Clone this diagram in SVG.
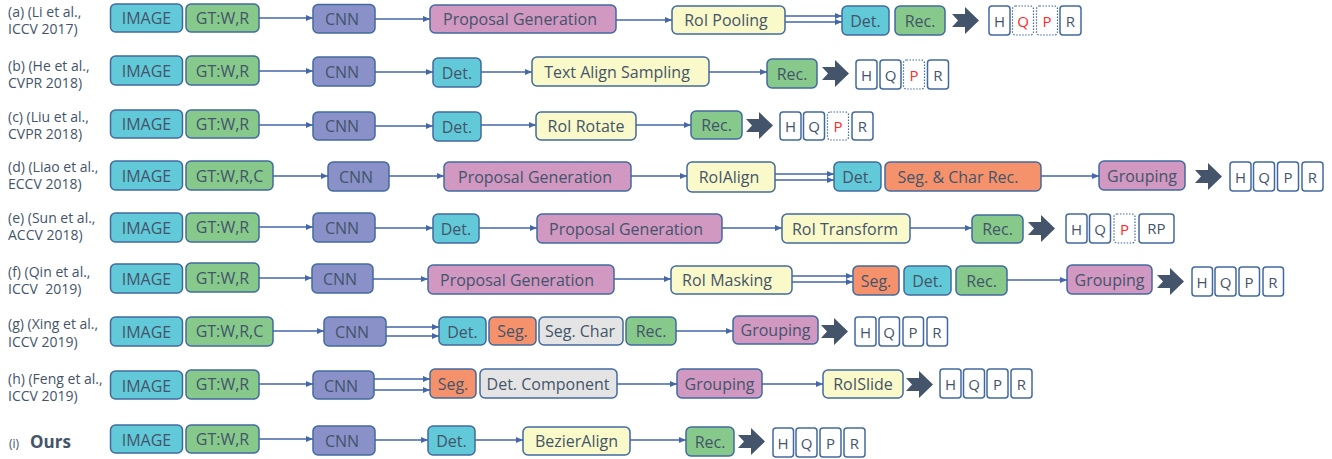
<svg xmlns="http://www.w3.org/2000/svg" xmlns:xlink="http://www.w3.org/1999/xlink" width="1332" height="459" viewBox="0 0 1332 459">
<style>
.bx{stroke:#41699F;stroke-width:1.5;rx:5px;ry:5px}
.img{fill:#62C9D8}.gt{fill:#86C98B}.cnn{fill:#8991C8}.pg{fill:#D198C2}.yl{fill:#FAF9C9}.or{fill:#F5926C}.gr{fill:#E4E4E4}
.t{font-family:"Open Sans","Noto Sans",sans-serif;font-size:16px;fill:#44546A;text-anchor:middle;dominant-baseline:central}
.lb{font-family:"Open Sans","Noto Sans",sans-serif;font-size:14px;fill:#44546A}
.sb{fill:#fff;stroke:#41699F;stroke-width:1.5;rx:3px;ry:3px}
.dt{stroke-width:1.2;stroke-dasharray:1.5 1.5}
.st{font-family:"Open Sans","Noto Sans",sans-serif;font-size:15px;fill:#44546A;text-anchor:middle;dominant-baseline:central}
.red{fill:#FF2A2A}
.ln{stroke:#4466AA;stroke-width:1.3;fill:none;marker-end:url(#ah)}
.big{fill:#44546A}
</style>
<defs>
<marker id="ah" markerUnits="userSpaceOnUse" markerWidth="7" markerHeight="6" refX="7" refY="3" orient="auto"><path d="M0,0 L7,3 L0,6 z" fill="#4466AA"/></marker>
<path id="ba" d="M0,7 L13,7 L13,0 L27,13.5 L13,27 L13,20 L0,20 L6,13.5 z"/>
</defs>

<g id="labels">
<text class="lb" x="8" y="16.5">(a) (Li et al.,</text><text class="lb" x="8" y="33.5">ICCV 2017)</text>
<text class="lb" x="8" y="70.5">(b) (He et al.,</text><text class="lb" x="8" y="87.5">CVPR 2018)</text>
<text class="lb" x="8" y="121.5">(c) (Liu et al.,</text><text class="lb" x="8" y="138.5">CVPR 2018)</text>
<text class="lb" x="8" y="171.5">(d) (Liao et al.,</text><text class="lb" x="8" y="188.5">ECCV 2018)</text>
<text class="lb" x="8" y="222.5">(e) (Sun et al.,</text><text class="lb" x="8" y="239.5">ACCV 2018)</text>
<text class="lb" x="8" y="276.5">(f) (Qin et al.,</text><text class="lb" x="8" y="293.5" xml:space="preserve">ICCV  2019)</text>
<text class="lb" x="8" y="329">(g) (Xing et al.,</text><text class="lb" x="8" y="347">ICCV 2019)</text>
<text class="lb" x="8" y="383.5">(h) (Feng et al.,</text><text class="lb" x="8" y="400.5">ICCV 2019)</text>
<text class="lb" x="9" y="448" style="font-size:12px">(i)</text><text class="lb" x="30" y="448" style="font-size:17px;font-weight:bold">Ours</text>
</g>

<g id="connectors">
<!-- a -->
<line class="ln" x1="259" y1="18" x2="313" y2="18"/>
<line class="ln" x1="375" y1="19" x2="430" y2="19"/>
<line class="ln" x1="616" y1="20" x2="672" y2="20"/>
<line class="ln" x1="785" y1="16" x2="842" y2="16"/>
<line class="ln" x1="785" y1="22" x2="842" y2="22"/>
<!-- b -->
<line class="ln" x1="259" y1="71" x2="313" y2="71"/>
<line class="ln" x1="375" y1="72" x2="433" y2="72"/>
<line class="ln" x1="481" y1="72" x2="532" y2="72"/>
<line class="ln" x1="709" y1="72" x2="767" y2="72"/>
<!-- c -->
<line class="ln" x1="259" y1="125" x2="313" y2="125"/>
<line class="ln" x1="375" y1="126" x2="433" y2="126"/>
<line class="ln" x1="481" y1="125" x2="536" y2="125"/>
<line class="ln" x1="636" y1="125" x2="691" y2="125"/>
<!-- d -->
<line class="ln" x1="273" y1="176" x2="328" y2="176"/>
<line class="ln" x1="389" y1="176" x2="444" y2="176"/>
<line class="ln" x1="631" y1="176" x2="687" y2="176"/>
<line class="ln" x1="775" y1="174" x2="834" y2="174"/>
<line class="ln" x1="775" y1="180" x2="834" y2="180"/>
<line class="ln" x1="1041" y1="176" x2="1099" y2="176"/>
<!-- e -->
<line class="ln" x1="259" y1="227" x2="313" y2="227"/>
<line class="ln" x1="375" y1="228" x2="433" y2="228"/>
<line class="ln" x1="479" y1="228" x2="537" y2="228"/>
<line class="ln" x1="722" y1="228" x2="782" y2="228"/>
<line class="ln" x1="910" y1="228" x2="972" y2="228"/>
<!-- f -->
<line class="ln" x1="259" y1="278" x2="312" y2="278"/>
<line class="ln" x1="373" y1="279" x2="428" y2="279"/>
<line class="ln" x1="614" y1="279" x2="671" y2="279"/>
<line class="ln" x1="792" y1="276" x2="853" y2="276"/>
<line class="ln" x1="792" y1="282" x2="853" y2="282"/>
<line class="ln" x1="1007" y1="280" x2="1067" y2="280"/>
<!-- g -->
<line class="ln" x1="273" y1="331" x2="324" y2="331"/>
<line class="ln" x1="386" y1="327" x2="439" y2="327"/>
<line class="ln" x1="386" y1="336" x2="439" y2="336"/>
<line class="ln" x1="676" y1="331" x2="733" y2="331"/>
<!-- h -->
<line class="ln" x1="259" y1="384" x2="313" y2="384"/>
<line class="ln" x1="374" y1="379" x2="430" y2="379"/>
<line class="ln" x1="374" y1="390" x2="430" y2="390"/>
<line class="ln" x1="617" y1="384" x2="677" y2="384"/>
<line class="ln" x1="762" y1="384" x2="823" y2="384"/>
<!-- i -->
<line class="ln" x1="259" y1="439" x2="313" y2="439"/>
<line class="ln" x1="375" y1="440" x2="428" y2="440"/>
<line class="ln" x1="475" y1="440" x2="523" y2="440"/>
<line class="ln" x1="630" y1="440" x2="686" y2="440"/>
<!-- big arrows -->
<use href="#ba" class="big" x="952" y="7"/>
<use href="#ba" class="big" x="822" y="60"/>
<use href="#ba" class="big" x="746" y="112"/>
<use href="#ba" class="big" x="1195" y="163"/>
<use href="#ba" class="big" x="1028" y="215"/>
<use href="#ba" class="big" x="1157" y="268"/>
<use href="#ba" class="big" x="821" y="318"/>
<use href="#ba" class="big" x="906" y="371"/>
<use href="#ba" class="big" x="738" y="428"/>
</g>

<!-- Row a -->
<g id="a-image"><rect class="bx img" x="110.5" y="4" width="72" height="28"/><text class="t" x="146.5" y="18">IMAGE</text></g>
<g id="a-gt"><rect class="bx gt" x="186" y="4" width="73" height="28"/><text class="t" x="222.5" y="18">GT:W,R</text></g>
<g id="a-cnn"><rect class="bx cnn" x="313" y="4.5" width="62" height="28.5"/><text class="t" x="342" y="19">CNN</text></g>
<g id="a-pg"><rect class="bx pg" x="430" y="5" width="186" height="28"/><text class="t" x="520" y="19">Proposal Generation</text></g>
<g id="a-roi"><rect class="bx yl" x="672" y="6" width="113" height="28"/><text class="t" x="726" y="20">RoI Pooling</text></g>
<g id="a-det"><rect class="bx img" x="842" y="6" width="47" height="29"/><text class="t" x="865.5" y="20.5">Det.</text></g>
<g id="a-rec"><rect class="bx gt" x="895" y="6" width="50" height="29"/><text class="t" x="920" y="20.5">Rec.</text></g>
<g id="a-out">
<rect class="sb" x="989" y="6" width="21" height="29"/><text class="st" x="999.5" y="20.5">H</text>
<rect class="sb dt" x="1012.5" y="6" width="21" height="29"/><text class="st red" x="1023" y="20.5">Q</text>
<rect class="sb dt" x="1036.5" y="6" width="21" height="29"/><text class="st red" x="1047" y="20.5">P</text>
<rect class="sb" x="1060" y="6" width="21" height="29"/><text class="st" x="1070.5" y="20.5">R</text>
</g>

<!-- Row b -->
<g id="b-image"><rect class="bx img" x="110.5" y="56" width="72" height="29"/><text class="t" x="146.5" y="70.5">IMAGE</text></g>
<g id="b-gt"><rect class="bx gt" x="186" y="56" width="73" height="29"/><text class="t" x="222.5" y="70.5">GT:W,R</text></g>
<g id="b-cnn"><rect class="bx cnn" x="313" y="57" width="62" height="29"/><text class="t" x="342" y="72">CNN</text></g>
<g id="b-det"><rect class="bx img" x="433" y="58" width="48" height="29"/><text class="t" x="457" y="72.5">Det.</text></g>
<g id="b-tas"><rect class="bx yl" x="532" y="57" width="177" height="29"/><text class="t" x="617" y="71.5">Text Align Sampling</text></g>
<g id="b-rec"><rect class="bx gt" x="767" y="59" width="50" height="29"/><text class="t" x="792" y="73.5">Rec.</text></g>
<g id="b-out">
<rect class="sb" x="856" y="60" width="21" height="29"/><text class="st" x="866.5" y="74.5">H</text>
<rect class="sb" x="880" y="60" width="21" height="29"/><text class="st" x="890.5" y="74.5">Q</text>
<rect class="sb dt" x="903.5" y="60" width="21" height="29"/><text class="st red" x="914" y="74.5">P</text>
<rect class="sb" x="927.5" y="60" width="21" height="29"/><text class="st" x="938" y="74.5">R</text>
</g>

<!-- Row c -->
<g id="c-image"><rect class="bx img" x="110.5" y="110" width="72" height="28"/><text class="t" x="146.5" y="124">IMAGE</text></g>
<g id="c-gt"><rect class="bx gt" x="186" y="110" width="73" height="28"/><text class="t" x="222.5" y="124">GT:W,R</text></g>
<g id="c-cnn"><rect class="bx cnn" x="313" y="112" width="62" height="28"/><text class="t" x="342" y="126">CNN</text></g>
<g id="c-det"><rect class="bx img" x="433" y="112" width="48" height="29"/><text class="t" x="457" y="126.5">Det.</text></g>
<g id="c-rot"><rect class="bx yl" x="536" y="112" width="100" height="28"/><text class="t" x="586" y="126">RoI Rotate</text></g>
<g id="c-rec"><rect class="bx gt" x="691" y="111" width="51" height="28"/><text class="t" x="716.5" y="125">Rec.</text></g>
<g id="c-out">
<rect class="sb" x="780" y="112" width="21" height="28"/><text class="st" x="790.5" y="126">H</text>
<rect class="sb" x="803.5" y="112" width="21" height="28"/><text class="st" x="814" y="126">Q</text>
<rect class="sb dt" x="827.5" y="112" width="21" height="28"/><text class="st red" x="838" y="126">P</text>
<rect class="sb" x="852" y="112" width="21" height="28"/><text class="st" x="862.5" y="126">R</text>
</g>

<!-- Row d -->
<g id="d-image"><rect class="bx img" x="110.5" y="161" width="72" height="29"/><text class="t" x="146.5" y="175.5">IMAGE</text></g>
<g id="d-gt"><rect class="bx gt" x="186" y="161" width="87" height="29"/><text class="t" x="229.5" y="175.5">GT:W,R,C</text></g>
<g id="d-cnn"><rect class="bx cnn" x="328" y="162" width="61" height="29"/><text class="t" x="356" y="176.5">CNN</text></g>
<g id="d-pg"><rect class="bx pg" x="444" y="162" width="187" height="29"/><text class="t" x="535" y="176.5">Proposal Generation</text></g>
<g id="d-align"><rect class="bx yl" x="687" y="162" width="88" height="30"/><text class="t" x="729" y="177">RoIAlign</text></g>
<g id="d-det"><rect class="bx img" x="834" y="162" width="47" height="29"/><text class="t" x="857.5" y="176.5">Det.</text></g>
<g id="d-seg"><rect class="bx or" x="885" y="162" width="156" height="29"/><text class="t" x="958" y="176.5">Seg. &amp; Char Rec.</text></g>
<g id="d-grp"><rect class="bx pg" x="1099" y="161" width="86" height="29"/><text class="t" x="1142" y="175.5">Grouping</text></g>
<g id="d-out">
<rect class="sb" x="1230" y="162" width="21" height="29"/><text class="st" x="1240.5" y="176.5">H</text>
<rect class="sb" x="1253.5" y="162" width="21" height="29"/><text class="st" x="1264" y="176.5">Q</text>
<rect class="sb" x="1277.5" y="162" width="21" height="29"/><text class="st" x="1288" y="176.5">P</text>
<rect class="sb" x="1302" y="162" width="21" height="29"/><text class="st" x="1312.5" y="176.5">R</text>
</g>

<!-- Row e -->
<g id="e-image"><rect class="bx img" x="110.5" y="213" width="72" height="29"/><text class="t" x="146.5" y="227.5">IMAGE</text></g>
<g id="e-gt"><rect class="bx gt" x="186" y="213" width="73" height="29"/><text class="t" x="222.5" y="227">GT:W,R</text></g>
<g id="e-cnn"><rect class="bx cnn" x="313" y="213" width="62" height="29"/><text class="t" x="342" y="228">CNN</text></g>
<g id="e-det"><rect class="bx img" x="433" y="214" width="46" height="29"/><text class="t" x="456" y="228.5">Det.</text></g>
<g id="e-pg"><rect class="bx pg" x="537" y="214" width="185" height="29"/><text class="t" x="626" y="228.5">Proposal Generation</text></g>
<g id="e-trans"><rect class="bx yl" x="782" y="214" width="128" height="29"/><text class="t" x="845" y="228.5">RoI Transform</text></g>
<g id="e-rec"><rect class="bx gt" x="972" y="215" width="51" height="28"/><text class="t" x="997.5" y="229">Rec.</text></g>
<g id="e-out">
<rect class="sb" x="1066" y="214" width="21" height="29"/><text class="st" x="1076.5" y="228.5">H</text>
<rect class="sb" x="1089.5" y="214" width="21" height="29"/><text class="st" x="1100" y="228.5">Q</text>
<rect class="sb dt" x="1114" y="214" width="21" height="29"/><text class="st red" x="1124.5" y="228.5">P</text>
<rect class="sb" x="1139" y="214" width="35" height="29"/><text class="st" x="1156.5" y="228">RP</text>
</g>

<!-- Row f -->
<g id="f-image"><rect class="bx img" x="110.5" y="264" width="72" height="29"/><text class="t" x="146.5" y="279">IMAGE</text></g>
<g id="f-gt"><rect class="bx gt" x="186" y="263" width="73" height="29"/><text class="t" x="222.5" y="277.5">GT:W,R</text></g>
<g id="f-cnn"><rect class="bx cnn" x="312" y="264" width="61" height="29"/><text class="t" x="340" y="279">CNN</text></g>
<g id="f-pg"><rect class="bx pg" x="428" y="265" width="186" height="29"/><text class="t" x="517" y="279.5">Proposal Generation</text></g>
<g id="f-mask"><rect class="bx yl" x="671" y="266" width="121" height="28"/><text class="t" x="727" y="280">RoI Masking</text></g>
<g id="f-seg"><rect class="bx or" x="853" y="266" width="46" height="29"/><text class="t" x="876" y="280.5">Seg.</text></g>
<g id="f-det"><rect class="bx img" x="904" y="266" width="47" height="29"/><text class="t" x="927.5" y="281">Det.</text></g>
<g id="f-rec"><rect class="bx gt" x="956" y="266" width="51" height="29"/><text class="t" x="981.5" y="280.5">Rec.</text></g>
<g id="f-grp"><rect class="bx pg" x="1067" y="265" width="85" height="29"/><text class="t" x="1109.5" y="279.5">Grouping</text></g>
<g id="f-out">
<rect class="sb" x="1192" y="267" width="20.5" height="29"/><text class="st" x="1202" y="281.5">H</text>
<rect class="sb" x="1215" y="267" width="21" height="29"/><text class="st" x="1225.5" y="281.5">Q</text>
<rect class="sb" x="1239" y="267" width="20.5" height="29"/><text class="st" x="1249" y="281.5">P</text>
<rect class="sb" x="1263" y="267" width="20.5" height="29"/><text class="st" x="1273" y="281.5">R</text>
</g>

<!-- Row g -->
<g id="g-image"><rect class="bx img" x="110.5" y="317" width="72" height="29"/><text class="t" x="146.5" y="332">IMAGE</text></g>
<g id="g-gt"><rect class="bx gt" x="186" y="317" width="87" height="29"/><text class="t" x="229.5" y="331">GT:W,R,C</text></g>
<g id="g-cnn"><rect class="bx cnn" x="324" y="317" width="62" height="29"/><text class="t" x="352" y="332">CNN</text></g>
<g id="g-det"><rect class="bx img" x="439" y="317" width="47" height="28"/><text class="t" x="462.5" y="331.5">Det.</text></g>
<g id="g-seg"><rect class="bx or" x="489" y="317" width="47" height="28"/><text class="t" x="512.5" y="331">Seg.</text></g>
<g id="g-char"><rect class="bx gr" x="539" y="317" width="84" height="28"/><text class="t" x="580" y="331">Seg. Char</text></g>
<g id="g-rec"><rect class="bx gt" x="626" y="317" width="50" height="28"/><text class="t" x="651" y="331">Rec.</text></g>
<g id="g-grp"><rect class="bx pg" x="733" y="316" width="85" height="28"/><text class="t" x="775.5" y="330">Grouping</text></g>
<g id="g-out">
<rect class="sb" x="855" y="317" width="21" height="29"/><text class="st" x="865.5" y="331.5">H</text>
<rect class="sb" x="879" y="317" width="20.5" height="29"/><text class="st" x="889" y="331.5">Q</text>
<rect class="sb" x="903" y="317" width="20.5" height="29"/><text class="st" x="913" y="331.5">P</text>
<rect class="sb" x="927" y="317" width="20.5" height="29"/><text class="st" x="937" y="331.5">R</text>
</g>

<!-- Row h -->
<g id="h-image"><rect class="bx img" x="110.5" y="371" width="72" height="28"/><text class="t" x="146.5" y="385.5">IMAGE</text></g>
<g id="h-gt"><rect class="bx gt" x="186" y="370" width="73" height="29"/><text class="t" x="222.5" y="384">GT:W,R</text></g>
<g id="h-cnn"><rect class="bx cnn" x="313" y="371" width="61" height="28"/><text class="t" x="341" y="385.5">CNN</text></g>
<g id="h-seg"><rect class="bx or" x="430" y="369" width="46" height="29"/><text class="t" x="453" y="383.5">Seg.</text></g>
<g id="h-comp"><rect class="bx gr" x="480" y="369" width="137" height="29"/><text class="t" x="548" y="383.5">Det. Component</text></g>
<g id="h-grp"><rect class="bx pg" x="677" y="369" width="85" height="29"/><text class="t" x="719.5" y="383.5">Grouping</text></g>
<g id="h-slide"><rect class="bx yl" x="823" y="370" width="80" height="28"/><text class="t" x="863" y="384">RoISlide</text></g>
<g id="h-out">
<rect class="sb" x="940" y="369" width="21" height="29"/><text class="st" x="950.5" y="384">H</text>
<rect class="sb" x="963.5" y="369" width="21" height="29"/><text class="st" x="974" y="383.5">Q</text>
<rect class="sb" x="987" y="369" width="21" height="29"/><text class="st" x="997.5" y="384">P</text>
<rect class="sb" x="1011" y="369" width="21" height="29"/><text class="st" x="1021.5" y="383.5">R</text>
</g>

<!-- Row i -->
<g id="i-image"><rect class="bx img" x="110.5" y="425" width="72" height="28"/><text class="t" x="146.5" y="439.5">IMAGE</text></g>
<g id="i-gt"><rect class="bx gt" x="186" y="425" width="73" height="28"/><text class="t" x="222.5" y="439">GT:W,R</text></g>
<g id="i-cnn"><rect class="bx cnn" x="313" y="426" width="62" height="29"/><text class="t" x="342" y="440.5">CNN</text></g>
<g id="i-det"><rect class="bx img" x="428" y="426" width="47" height="29"/><text class="t" x="451.5" y="440.5">Det.</text></g>
<g id="i-bez"><rect class="bx yl" x="523" y="427" width="107" height="28"/><text class="t" x="576.5" y="441">BezierAlign</text></g>
<g id="i-rec"><rect class="bx gt" x="686" y="427" width="48" height="29"/><text class="t" x="710" y="441.5">Rec.</text></g>
<g id="i-out">
<rect class="sb" x="773" y="428" width="20.5" height="29"/><text class="st" x="783" y="442.5">H</text>
<rect class="sb" x="796" y="428" width="21" height="29"/><text class="st" x="806.5" y="442.5">Q</text>
<rect class="sb" x="820" y="428" width="21" height="29"/><text class="st" x="830.5" y="442.5">P</text>
<rect class="sb" x="844" y="428" width="21" height="29"/><text class="st" x="854.5" y="442.5">R</text>
</g>
</svg>
